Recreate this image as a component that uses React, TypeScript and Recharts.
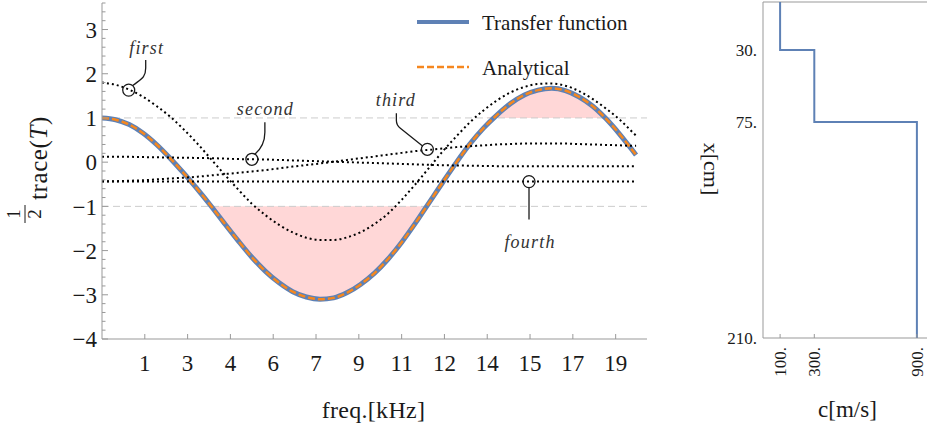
import React from "react";
import {
  ComposedChart,
  Line,
  Area,
  XAxis,
  YAxis,
  ReferenceLine,
  ReferenceDot,
  Legend,
  ScatterChart,
  Scatter,
} from "recharts";

// frequency grid, kHz
const freq = [
  0, 0.5, 1, 1.5, 2, 2.5, 3, 3.5, 4, 4.5, 5, 5.5, 6, 6.5, 7, 7.5, 8, 8.5, 9, 9.5,
  10, 10.5, 11, 11.5, 12, 12.5, 13, 13.5, 14, 14.5, 15, 15.5, 16, 16.5, 17, 17.5,
  18, 18.5, 19, 19.5, 19.6,
];

// 1/2 trace(T), transfer function
const transfer = [
  1.0, 0.96, 0.85, 0.66, 0.4, 0.09, -0.25, -0.61, -0.99, -1.39, -1.78, -2.15,
  -2.47, -2.73, -2.93, -3.05, -3.1, -3.07, -2.95, -2.76, -2.51, -2.19, -1.81,
  -1.38, -0.92, -0.46, -0.01, 0.41, 0.77, 1.07, 1.33, 1.52, 1.63, 1.67, 1.62,
  1.48, 1.27, 0.98, 0.63, 0.24, 0.16,
];

// analytical result (lies on top of the transfer function)
const analytical = [
  1.0, 0.96, 0.85, 0.66, 0.4, 0.09, -0.25, -0.61, -0.99, -1.39, -1.78, -2.15,
  -2.47, -2.73, -2.93, -3.05, -3.1, -3.07, -2.95, -2.76, -2.51, -2.19, -1.81,
  -1.38, -0.92, -0.46, -0.01, 0.41, 0.77, 1.07, 1.33, 1.52, 1.63, 1.67, 1.62,
  1.48, 1.27, 0.98, 0.63, 0.24, 0.16,
];

const first = [
  1.8, 1.75, 1.64, 1.48, 1.27, 1.03, 0.74, 0.42, 0.07, -0.28, -0.62, -0.94, -1.2,
  -1.42, -1.59, -1.71, -1.76, -1.76, -1.7, -1.58, -1.4, -1.16, -0.85, -0.5,
  -0.13, 0.24, 0.58, 0.9, 1.17, 1.4, 1.58, 1.7, 1.77, 1.78, 1.73, 1.61, 1.43,
  1.21, 0.96, 0.66, 0.6,
];

const second = [
  0.12, 0.12, 0.12, 0.115, 0.11, 0.105, 0.1, 0.095, 0.09, 0.08, 0.07, 0.065,
  0.06, 0.05, 0.04, 0.03, 0.02, 0.01, 0.0, -0.01, -0.02, -0.03, -0.04, -0.05,
  -0.06, -0.07, -0.075, -0.08, -0.085, -0.09, -0.09, -0.09, -0.095, -0.095,
  -0.095, -0.095, -0.095, -0.095, -0.095, -0.095, -0.095,
];

const third = [
  -0.43, -0.43, -0.42, -0.41, -0.39, -0.37, -0.35, -0.33, -0.3, -0.27, -0.24,
  -0.21, -0.18, -0.14, -0.1, -0.065, -0.03, 0.01, 0.05, 0.09, 0.13, 0.17, 0.21,
  0.25, 0.28, 0.31, 0.34, 0.36, 0.38, 0.4, 0.41, 0.42, 0.42, 0.42, 0.42, 0.41,
  0.4, 0.39, 0.38, 0.37, 0.37,
];

const fourthFreq = [0, 19.6];
const fourth = [-0.44, -0.44];

const xTicks = [
  1.571, 3.142, 4.712, 6.283, 7.854, 9.425, 10.996, 12.566, 14.137, 15.708,
  17.279, 18.85,
];
const xTickLabels = ["1", "3", "4", "6", "7", "9", "11", "12", "14", "15", "17", "19"];

// callouts on the dotted curves
const noteNames = ["first", "second", "third", "fourth"];
const noteFreq = [0.98, 5.5, 11.94, 15.67];
const noteValue = [1.63, 0.065, 0.29, -0.44];

// layered profile
const depth = [0, 30, 30, 75, 75, 210];
const speed = [100, 100, 300, 300, 900, 900];
const depthTicks = [30, 75, 210];
const speedTicks = [100, 300, 900];

const serif = "Liberation Serif";
const ink = "#1a1a1a";
const axisGray = "#999999";
const blue = "#5e81b5";
const orange = "#f5871f";
const pink = "#ffd7d7";

const rows = freq.map((f, i) => ({
  f,
  transfer: transfer[i],
  analytical: analytical[i],
  first: first[i],
  second: second[i],
  third: third[i],
  low: [Math.min(transfer[i], -1), -1],
  high: [1, Math.max(transfer[i], 1)],
}));
const fourthRows = fourthFreq.map((f, i) => ({ f, fourth: fourth[i] }));
const profile = depth.map((x, i) => ({ x, c: speed[i] }));

const yTicks = Array.from({ length: 39 }, (_, i) => Math.round((-4 + i * 0.2) * 10) / 10);
const fmtMinus = (v: number) => (v < 0 ? `\u2212${-v}` : `${v}`);

const FreqTick = (props: any) => {
  const { x, y, payload } = props;
  const ay = y - 8;
  const i = xTicks.indexOf(payload.value);
  return (
    <g>
      <line x1={x} x2={x} y1={ay} y2={ay - 5} stroke={axisGray} />
      <text x={x} y={ay + 32} textAnchor="middle" fontSize={23} fill={ink} fontFamily={serif}>
        {xTickLabels[i]}
      </text>
    </g>
  );
};

const TraceTick = (props: any) => {
  const { x, y, payload } = props;
  const v = payload.value;
  const major = Math.abs(v - Math.round(v)) < 1e-6;
  const ax = x + 5;
  return (
    <g>
      <line x1={ax} x2={ax + (major ? 6 : 3.5)} y1={y} y2={y} stroke={axisGray} />
      {major && (
        <text x={x} y={y} dy="0.36em" textAnchor="end" fontSize={23} fill={ink} fontFamily={serif}>
          {fmtMinus(Math.round(v))}
        </text>
      )}
    </g>
  );
};

const TraceLabel = (props: any) => {
  const vb = props.viewBox;
  const cy = vb.y + vb.height / 2;
  return (
    <g transform={`translate(0,${cy}) rotate(-90)`} fill={ink} fontFamily={serif}>
      <text x={-43} y={20} textAnchor="middle" fontSize={19}>1</text>
      <line x1={-52} x2={-34} y1={25} y2={25} stroke={ink} strokeWidth={1} />
      <text x={-43} y={41} textAnchor="middle" fontSize={19}>2</text>
      <text x={-29} y={47} fontSize={25} letterSpacing={0.6}>
        trace(<tspan fontStyle="italic">T</tspan>)
      </text>
    </g>
  );
};

const FreqLabel = (props: any) => {
  const vb = props.viewBox;
  return (
    <text
      x={vb.x + vb.width / 2 - 1}
      y={vb.y + 79}
      textAnchor="middle"
      fontSize={24}
      fill={ink}
      fontFamily={serif}
      letterSpacing={0.3}
    >
      freq.[kHz]
    </text>
  );
};

const Note = ({ cx, cy, name }: { cx: number; cy: number; name: string }) => {
  let d = "";
  let tx = cx;
  let ty = cy;
  if (name === "first") {
    d = `M${cx + 4},${cy - 4.5} C${cx + 12},${cy - 11} ${cx + 17},${cy - 12} ${cx + 17},${cy - 22} L${cx + 17},${cy - 30}`;
    tx = cx + 18;
    ty = cy - 36;
  } else if (name === "second") {
    d = `M${cx + 3},${cy - 5} C${cx + 10},${cy - 11} ${cx + 13},${cy - 17} ${cx + 13},${cy - 27} L${cx + 13},${cy - 37}`;
    tx = cx + 13.5;
    ty = cy - 44;
  } else if (name === "third") {
    d = `M${cx - 4.5},${cy - 3} L${cx - 27},${cy - 21} Q${cx - 31},${cy - 24} ${cx - 31},${cy - 29} L${cx - 31},${cy - 36}`;
    tx = cx - 31.5;
    ty = cy - 43;
  } else {
    d = `M${cx},${cy + 6} L${cx},${cy + 38}`;
    tx = cx + 1;
    ty = cy + 66;
  }
  return (
    <g>
      <circle cx={cx} cy={cy} r={6} stroke={ink} strokeWidth={1.3} fill="none" />
      <path d={d} stroke={ink} strokeWidth={1.3} fill="none" />
      <text
        x={tx}
        y={ty}
        textAnchor="middle"
        fontSize={18}
        fontStyle="italic"
        letterSpacing={1.2}
        fill="#333"
        fontFamily={serif}
      >
        {name}
      </text>
    </g>
  );
};

const LegendBox = () => (
  <svg width={260} height={80}>
    <line x1={7} x2={59} y1={17} y2={17} stroke={blue} strokeWidth={4} />
    <text x={72} y={25} fontSize={21} fill={ink} fontFamily={serif}>Transfer function</text>
    <line x1={7} x2={59} y1={62} y2={62} stroke={orange} strokeWidth={2.5} strokeDasharray="7 3" />
    <text x={72} y={70} fontSize={21} fill={ink} fontFamily={serif}>Analytical</text>
  </svg>
);

const SpeedTick = (props: any) => {
  const { x, y, payload } = props;
  const ay = y - 6;
  return (
    <g>
      <line x1={x} x2={x} y1={ay} y2={ay - 4} stroke={axisGray} />
      <text
        transform={`translate(${x},${ay + 9}) rotate(-90)`}
        dy="0.35em"
        textAnchor="end"
        fontSize={17}
        fill={ink}
        fontFamily={serif}
      >
        {`${payload.value}.`}
      </text>
    </g>
  );
};

const DepthLabel = (props: any) => {
  const vb = props.viewBox;
  const cy = vb.y + 167;
  return (
    <text
      transform={`translate(${vb.x + 1},${cy}) rotate(90)`}
      textAnchor="middle"
      fontSize={22}
      fill={ink}
      fontFamily={serif}
    >
      x[cm]
    </text>
  );
};

const SpeedLabel = (props: any) => {
  const vb = props.viewBox;
  return (
    <text x={vb.x + vb.width / 2 - 1} y={vb.y + 79} textAnchor="middle" fontSize={23} fill={ink} fontFamily={serif}>
      c[m/s]
    </text>
  );
};

export default function App() {
  return (
    <div
      style={{
        position: "absolute",
        left: 0,
        top: 0,
        width: 927,
        height: 430,
        overflow: "hidden",
        background: "#fff",
        fontFamily: serif,
      }}
    >
      <div style={{ position: "absolute", left: 0, top: 0 }}>
        <ComposedChart
          width={660}
          height={430}
          data={rows}
          margin={{ top: 3, right: 13, bottom: 61, left: 2 }}
        >
          <XAxis
            dataKey="f"
            type="number"
            domain={[0, 20]}
            ticks={xTicks}
            interval={0}
            height={30}
            tickLine={false}
            tickSize={0}
            tickMargin={8}
            tick={FreqTick}
            axisLine={{ stroke: axisGray }}
            allowDataOverflow
            label={FreqLabel}
          />
          <YAxis
            type="number"
            domain={[-4, 3.6]}
            ticks={yTicks}
            interval={0}
            width={100}
            tickLine={false}
            tickSize={0}
            tickMargin={5}
            tick={TraceTick}
            axisLine={{ stroke: axisGray }}
            allowDataOverflow
            label={TraceLabel}
          />
          <Legend
            layout="vertical"
            verticalAlign="middle"
            align="center"
            content={LegendBox}
            wrapperStyle={{ left: 410, top: 5, width: 260, height: 80 }}
          />
          <Area dataKey="low" type="monotone" stroke="none" fill={pink} fillOpacity={1} isAnimationActive={false} legendType="none" />
          <Area dataKey="high" type="monotone" stroke="none" fill={pink} fillOpacity={1} isAnimationActive={false} legendType="none" />
          <ReferenceLine y={1} stroke="#cccccc" strokeDasharray="7 4" />
          <ReferenceLine y={-1} stroke="#cccccc" strokeDasharray="7 4" />
          <Line dataKey="transfer" type="monotone" stroke={blue} strokeWidth={5} dot={false} isAnimationActive={false} />
          <Line dataKey="analytical" type="monotone" stroke={orange} strokeWidth={2.5} strokeDasharray="7 3" dot={false} isAnimationActive={false} />
          <Line dataKey="first" type="monotone" stroke="#000" strokeWidth={2} strokeDasharray="2 3" dot={false} isAnimationActive={false} />
          <Line dataKey="second" type="monotone" stroke="#000" strokeWidth={2} strokeDasharray="2 3" dot={false} isAnimationActive={false} />
          <Line dataKey="third" type="monotone" stroke="#000" strokeWidth={2} strokeDasharray="2 3" dot={false} isAnimationActive={false} />
          <Line data={fourthRows} dataKey="fourth" type="linear" stroke="#000" strokeWidth={2} strokeDasharray="2 3" dot={false} isAnimationActive={false} />
          {noteNames.map((name, i) => (
            <ReferenceDot
              key={name}
              x={noteFreq[i]}
              y={noteValue[i]}
              r={6}
              ifOverflow="visible"
              shape={(p: any) => <Note cx={p.cx} cy={p.cy} name={name} />}
            />
          ))}
        </ComposedChart>
      </div>

      <div style={{ position: "absolute", left: 700, top: 0 }}>
        <ScatterChart width={250} height={430} margin={{ top: 2, right: 16, bottom: 52, left: 3 }}>
          <XAxis
            dataKey="c"
            type="number"
            domain={[0, 1000]}
            ticks={speedTicks}
            interval={0}
            height={40}
            tickLine={false}
            tickSize={0}
            tickMargin={6}
            tick={SpeedTick}
            axisLine={{ stroke: axisGray }}
            label={SpeedLabel}
          />
          <YAxis
            dataKey="x"
            type="number"
            domain={[0, 210]}
            reversed
            ticks={depthTicks}
            interval={0}
            width={60}
            tickLine={false}
            tickSize={0}
            tickMargin={6}
            tick={{ fontSize: 17, fill: ink, fontFamily: serif }}
            tickFormatter={(v: number) => `${v}.`}
            axisLine={{ stroke: axisGray }}
            label={DepthLabel}
          />
          <ReferenceLine y={0} stroke={axisGray} />
          <Scatter
            data={profile}
            line={{ stroke: blue, strokeWidth: 2 }}
            shape={() => <g />}
            isAnimationActive={false}
          />
        </ScatterChart>
      </div>
    </div>
  );
}
